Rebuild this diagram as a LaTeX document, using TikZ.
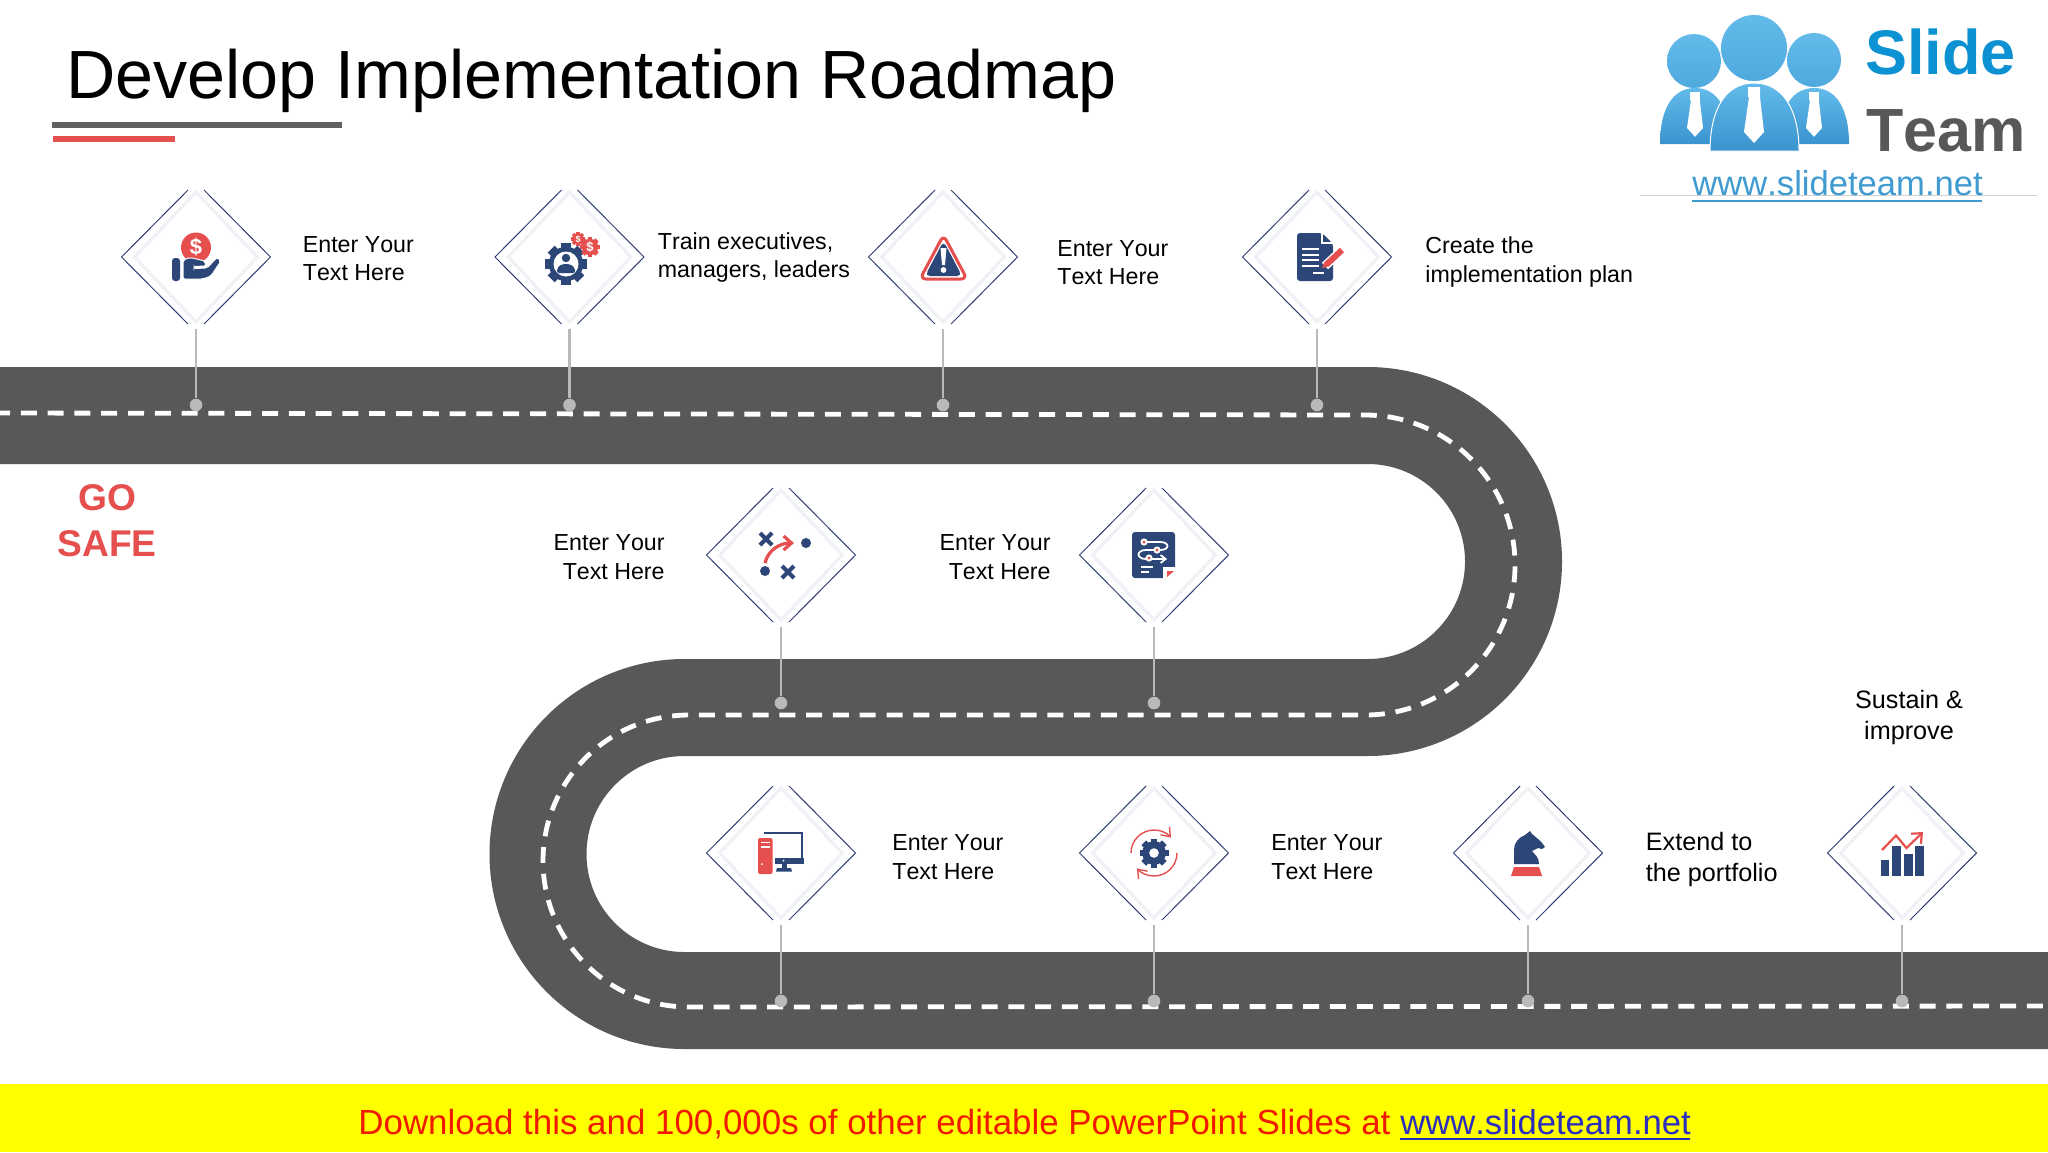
\documentclass[tikz,border=0pt]{standalone}
\usepackage{fontspec}
\setmainfont[Kerning=Off]{Liberation Sans}
\usetikzlibrary{shapes,calc,positioning,arrows.meta}
\definecolor{roadgrey}{HTML}{58575A}
\definecolor{navy}{HTML}{2B4677}
\definecolor{signred}{HTML}{E5504F}
\definecolor{stemgrey}{HTML}{B9B9BB}
\definecolor{signlight}{HTML}{EFF1F6}
\definecolor{frameblue}{HTML}{2F3F72}
\definecolor{logoblue}{HTML}{4FA9DE}
\definecolor{logolow}{HTML}{3B93CF}
\definecolor{logotop}{HTML}{62BBE9}
\definecolor{logoslide}{HTML}{0C92D2}
\definecolor{logourlblue}{HTML}{3F9BD0}
\definecolor{bannerred}{HTML}{F01A00}
\definecolor{bannerblue}{HTML}{2A2DBE}
\definecolor{bannerfill}{RGB}{255,255,0}
\tikzset{
  signbox/.style={shape=diamond, draw=signlight, line width=1.5pt, fill=white, inner sep=0pt, minimum width=62pt, minimum height=65.5pt},
  signframe/.style={draw=frameblue, line width=0.5pt},
  stem/.style={draw=stemgrey, line width=1.2pt},
  pin/.style={circle, fill=stemgrey, inner sep=0pt, minimum size=6.3pt},
  stepl/.style={font=\fontsize{11.6}{14.2}\selectfont, inner sep=0pt, anchor=west, align=left},
  stepr/.style={font=\fontsize{11.6}{14.6}\selectfont, inner sep=0pt, anchor=east, align=right},
  stepbig/.style={font=\fontsize{12.6}{15.6}\selectfont, inner sep=0pt},
  gearwheel/.pic={
    \fill circle (0.82);
    \foreach \a in {0,45,...,315} \fill[rotate=\a] (-0.23,0.6) rectangle (0.23,1);
  }
}
\begin{document}
\begin{tikzpicture}[x=0.5pt,y=-0.5pt]
  \useasboundingbox (0,0) rectangle (2048,1152);
  \fill[white] (0,0) rectangle (2048,1152);

  \node (title) [anchor=base west, inner sep=0pt, font=\fontsize{34.1}{40}\selectfont] at (66,98) {Develop Implementation Roadmap};
  \fill[roadgrey!95] (52,122) rectangle (342,128);
  \fill[signred] (53,136) rectangle (175,142);

  \draw[roadgrey, line width=48.5pt] (-10,415.5) -- (1367.5,415.5)
    arc[start angle=-90, end angle=90, radius=146] -- (684.5,707.5)
    arc[start angle=-90, end angle=-270, radius=146.5] -- (2060,1000.5);
  \draw[white, line width=2.4pt, dash pattern=on 8pt off 5.4pt] (-6,413) -- (1365,415)
    arc[start angle=-90, end angle=90, radius=150] -- (689,715)
    arc[start angle=-90, end angle=-270, radius=146] -- (2060,1006);

  \foreach \n/\x/\y in {1/196/257,2/569.5/257,3/943/257,4/1317/257,5/781/555,6/1154/555,7/781/853,8/1154/853,9/1528/853,10/1902/853} {
    \node (sign\n) [signbox] at (\x,\y) {};
    \node (pin\n) [pin] at (\x,\y+148) {};
    \draw[stem, shorten <=2.5pt] (sign\n.south) -- (pin\n);
    \draw[signframe] ($(sign\n)+(-8,-67)$) -- ($(sign\n)+(-74.5,0)$) -- ($(sign\n)+(-8,67)$);
    \draw[signframe] ($(sign\n)+(8,-67)$) -- ($(sign\n)+(74.5,0)$) -- ($(sign\n)+(8,67)$);
  }

  \node (text1) [stepl] at (302.5,258.5) {Enter Your\\Text Here};
  \node (text2) [stepl] at (657.5,257.5) {Train executives,\\managers, leaders};
  \node (text3) [stepl] at (1057,262.5) {Enter Your\\Text Here};
  \node (text4) [stepl] at (1425,262) {Create the\\implementation plan};
  \node (text5) [stepr] at (665,557.5) {Enter Your\\Text Here};
  \node (text6) [stepr] at (1051,557.5) {Enter Your\\Text Here};
  \node (text7) [stepl] at (892,857) {Enter Your\\Text Here};
  \node (text8) [stepl] at (1271,857) {Enter Your\\Text Here};
  \node (text9) [stepbig, anchor=west, align=left] at (1645.5,859.5) {Extend to\\the portfolio};
  \node (text10) [stepbig, align=center] at (1909,717.5) {Sustain \&\\improve};

  \node (gosafe) [font=\bfseries\fontsize{18.6}{23}\selectfont, text=signred, align=center, inner sep=0pt] at (107,521) {GO\\SAFE};

  % hand and coin
  \fill[signred] (196,247.5) circle (15);
  \node (coin) [text=white, font=\bfseries\fontsize{11}{11}\selectfont, inner sep=0pt] at (196,247) {\$};
  \fill[navy, rounded corners=1.5pt] (172,258) rectangle (180,281);
  \draw[white, line width=0.5pt, fill=navy, rounded corners=1pt] (183,260) -- (190,257.5) -- (205,261) -- (206,266) -- (194,266.5) -- (194,268.5) -- (207,268) -- (217,257.5) -- (221,261) -- (211,276) -- (203,279) -- (183,279) -- cycle;

  % gear with person
  \pic[color=navy, scale=21] (gearone) at (566,264) {gearwheel};
  \fill[white] (566,264) circle (12.5);
  \fill[navy] (566,258) circle (4.2);
  \fill[navy, rounded corners=1pt] (557,273) -- (557,268) -- (562,264) -- (570,264) -- (575,268) -- (575,273) -- cycle;
  \pic[color=signred, scale=7] (gearsmall) at (578,239) {gearwheel};
  \pic[color=signred, scale=10] (gearbig) at (590,247) {gearwheel};
  \node (dollarsmall) [text=white, font=\bfseries\fontsize{4.5}{5}\selectfont, inner sep=0pt] at (578,239) {\$};
  \node (dollarbig) [text=white, font=\bfseries\fontsize{6.5}{7}\selectfont, inner sep=0pt] at (590,247) {\$};

  % warning
  \draw[signred, fill=white, line width=1.5pt, line join=round, rounded corners=3pt] (943.5,235) -- (967,279) -- (920,279) -- cycle;
  \fill[navy, rounded corners=2.5pt] (943.5,241) -- (962,276) -- (925,276) -- cycle;
  \fill[white] (940.5,248) -- (946.5,248) -- (945,265) -- (942,265) -- cycle;
  \fill[white] (943.5,270) circle (2.9);

  % document and pen
  \fill[navy, rounded corners=1.5pt] (1297,233) -- (1322,233) -- (1333,244) -- (1333,281) -- (1297,281) -- cycle;
  \draw[white, line width=0.6pt] (1322,233) -- (1322,243) -- (1333,243);
  \foreach \ly in {249,254.5,260,265.5} \draw[white, line width=1pt] (1302,\ly) -- (1319,\ly);
  \draw[white, line width=1pt] (1313,273) -- (1324,273);
  \draw[white, line width=4.5pt] (1325,266) -- (1342,250);
  \draw[signred, line width=3pt] (1327,264) -- (1342,250);
  \fill[signred] (1322,268) -- (1325,261) -- (1330,266) -- cycle;

  % moves on the board
  \draw[navy, line width=2pt] (760,533) -- (772,545) (772,533) -- (760,545);
  \draw[navy, line width=2pt] (782,566) -- (794,578) (794,566) -- (782,578);
  \fill[navy] (806,543) circle (5);
  \fill[navy] (765,571) circle (5);
  \draw[signred, line width=1.6pt, -{Straight Barb[length=4pt,width=7pt]}] (765,563) .. controls (768,550) and (780,543) .. (794,543);

  % route sheet
  \fill[navy, rounded corners=1.5pt] (1132,532) rectangle (1175,578);
  \fill[white] (1163,579) -- (1163,567) -- (1176,567) -- (1176,579) -- cycle;
  \fill[signred] (1167,571) -- (1174,571) -- (1167,577) -- cycle;
  \draw[white, line width=0.9pt, -{Straight Barb[length=2.5pt,width=4pt]}] (1144,542) -- (1160,542) .. controls (1170,542) and (1170,550) .. (1160,550) -- (1146,550) .. controls (1136,550) and (1136,559) .. (1146,559) -- (1167,559);
  \foreach \dx/\dy in {1144/542,1157/550,1149/558} {
    \fill[white] (\dx,\dy) circle (3.6);
    \fill[signred] (\dx,\dy) circle (1.6);
  }
  \draw[white, line width=1pt] (1141,567) -- (1153,567) (1141,572) -- (1149,572);

  % computer
  \draw[navy, line width=1.3pt] (764,833) -- (802,833) -- (802,862);
  \fill[navy] (775,858) rectangle (803.5,863.5);
  \fill[navy] (781.5,863) rectangle (786.5,868);
  \fill[navy] (777,868) -- (791,868) -- (792,871.5) -- (776,871.5) -- cycle;
  \fill[white] (783.5,860.5) circle (1);
  \fill[signred, rounded corners=1pt] (758,838) rectangle (772.5,874);
  \draw[white, line width=0.9pt] (761,842.5) -- (769.5,842.5) (761,847) -- (769.5,847);
  \fill[white] (762,864) circle (1);

  % gear in cycle
  \pic[color=navy, scale=14.5] (gearcycle) at (1154,853) {gearwheel};
  \fill[white] (1154,853) circle (4.8);
  \draw[signred, line width=0.7pt, -{Straight Barb[length=4pt,width=6pt]}] (1131,853) arc[start angle=180, end angle=318, radius=23];
  \draw[signred, line width=0.7pt, -{Straight Barb[length=4pt,width=6pt]}] (1177,853) arc[start angle=0, end angle=138, radius=23];

  % knight
  \fill[navy] (1514,864) -- (1514,850) .. controls (1514,843) and (1518,838) .. (1525,835) -- (1530,831) -- (1532,834) .. controls (1537,838) and (1542,842) .. (1545,847) -- (1542,849) -- (1538,848) -- (1532,851) .. controls (1535,855) and (1539,857) .. (1539,864) -- cycle;
  \fill[signred] (1514,867) -- (1539,867) -- (1542,876) -- (1511,876) -- cycle;

  % chart
  \fill[navy] (1880.5,860) rectangle (1889,876);
  \fill[navy] (1892,846) rectangle (1901,876);
  \fill[navy] (1903.5,854) rectangle (1912.5,876);
  \fill[navy] (1915,846) rectangle (1924,876);
  \draw[signred, line width=1.1pt, -{Straight Barb[length=4pt,width=7pt]}] (1882,850) -- (1896,835.5) -- (1906.5,848) -- (1923,832);

  % logo
  \shade[top color=logotop, bottom color=logolow] (1660,144) .. controls (1660,110) and (1672,88) .. (1695,88) .. controls (1718,88) and (1730,110) .. (1730,144) -- cycle;
  \shade[top color=logotop, bottom color=logolow] (1849,144) .. controls (1849,110) and (1837,88) .. (1814,88) .. controls (1791,88) and (1779,110) .. (1779,144) -- cycle;
  \shade[top color=logotop, bottom color=logolow, draw=white, line width=0.5pt] (1710,151) .. controls (1710,110) and (1725,83) .. (1754,83) .. controls (1783,83) and (1799,110) .. (1799,151) -- cycle;
  \shade[top color=logotop, bottom color=logoblue] (1694,61) circle (27);
  \shade[top color=logotop, bottom color=logoblue] (1814,60) circle (27);
  \shade[top color=logotop, bottom color=logoblue, draw=white, line width=0.4pt] (1754,48) circle (33.5);
  \foreach \tx/\ty/\ts in {1695/92/0.8,1754/87/1,1814/92/0.8} {
    \fill[white, shift={(\tx,\ty)}, scale=\ts] (-6,0) -- (6,0) -- (6,10) -- (10,45) -- (0,56) -- (-10,45) -- (-5,10) -- (-6,10) -- cycle;
  }
  \node (slide) [anchor=base west, inner sep=0pt, text=logoslide, font=\bfseries\fontsize{31.5}{34}\selectfont] at (1865,74) {Slide};
  \node (team) [anchor=base west, inner sep=0pt, text=roadgrey, font=\bfseries\fontsize{30.5}{34}\selectfont] at (1866,151) {Team};
  \draw[black!18, line width=0.5pt] (1640,195) -- (2037,195);
  \node (logourl) [anchor=base west, inner sep=0pt, text=logourlblue, font=\fontsize{17.3}{20}\selectfont] at (1692,195) {www.slideteam.net};
  \draw[logourlblue, line width=1pt] (logourl.base west) ++(0,5.5) -- ++(290,0);

  % banner
  \fill[bannerfill] (0,1084) rectangle (2048,1152);
  \node (download) [anchor=base west, inner sep=0pt, text=bannerred, font=\fontsize{17.45}{20}\selectfont] at (358,1134) {Download this and 100,000s of other editable PowerPoint Slides at};
  \node (bannerurl) [anchor=base west, inner sep=0pt, text=bannerblue, font=\fontsize{17.3}{20}\selectfont] at (1400,1134) {www.slideteam.net};
  \draw[bannerblue, line width=0.9pt] (bannerurl.base west) ++(0,5) -- ++(290,0);
\end{tikzpicture}
\end{document}
